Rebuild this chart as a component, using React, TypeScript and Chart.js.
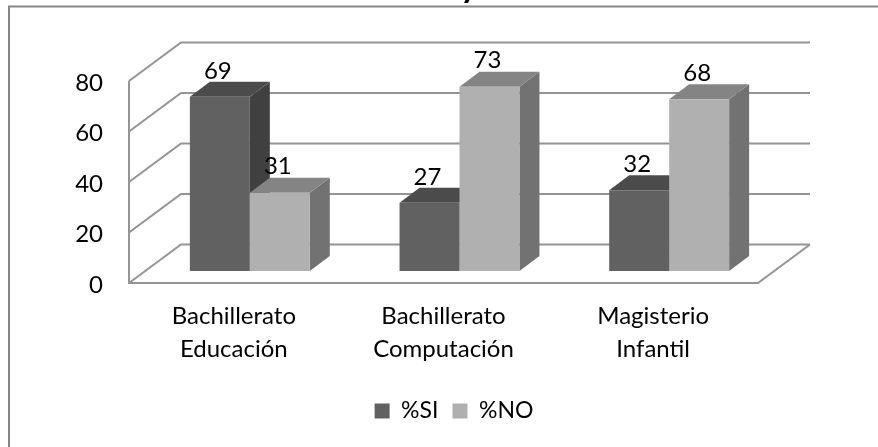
import React, { useEffect, useRef } from "react";
import { Chart, registerables } from "chart.js";

Chart.register(...registerables);

const categories = [["Bachillerato", "Educación"], ["Bachillerato", "Computación"], ["Magisterio", "Infantil"]];
const siValues = [69, 27, 32];
const noValues = [31, 73, 68];
const seriesNames = ["%SI", "%NO"];
const yTicks = [0, 20, 40, 60, 80];
const FONT = "Lato, Carlito, 'Open Sans', sans-serif";
const TEXT = "#000000";
const FONT_SIZE = 24;

const depth = { wallX: 52, wallY: -38.5, barShiftX: 16, barShiftY: -12, barX: 20, barY: -15 };
const faces = [
  { side: "#404040", top: "#4b4b4b" },
  { side: "#727272", top: "#848484" },
];

function drawFaces(chart: any, index: number) {
  const c = chart.ctx;
  const f = faces[index];
  chart.getDatasetMeta(index).data.forEach((b: any) => {
    const { x, y, base, width } = b.getProps(["x", "y", "base", "width"], true);
    const r = x + width / 2;
    const l = x - width / 2;
    c.fillStyle = f.side;
    c.beginPath();
    c.moveTo(r, y);
    c.lineTo(r + depth.barX, y + depth.barY);
    c.lineTo(r + depth.barX, base + depth.barY);
    c.lineTo(r, base);
    c.closePath();
    c.fill();
    c.fillStyle = f.top;
    c.beginPath();
    c.moveTo(l, y);
    c.lineTo(l + depth.barX, y + depth.barY);
    c.lineTo(r + depth.barX, y + depth.barY);
    c.lineTo(r, y);
    c.closePath();
    c.fill();
  });
}

const threeD = {
  id: "threeD",
  afterLayout(chart: any) {
    const lg = chart.legend;
    if (lg) {
      lg.left += 75;
      lg.right += 75;
      lg.top = 385.5;
      lg.bottom = lg.top + lg.height;
    }
  },
  beforeDraw(chart: any) {
    const c = chart.ctx;
    c.save();
    c.strokeStyle = "#868686";
    c.lineWidth = 2;
    c.beginPath();
    c.moveTo(9, 447);
    c.lineTo(9, 6.5);
    c.lineTo(878, 6.5);
    c.stroke();
    c.fillStyle = "#000";
    c.font = `bold 33px ${FONT}`;
    c.textAlign = "center";
    c.textBaseline = "alphabetic";
    c.fillText("y", 469, -2);
    c.restore();
  },
  beforeDatasetsDraw(chart: any) {
    const { ctx: c, scales, chartArea: a } = chart;
    const y = scales.y;
    c.save();
    c.strokeStyle = "#949494";
    c.lineWidth = 2;
    c.beginPath();
    yTicks.forEach((t) => {
      const py = y.getPixelForValue(t);
      c.moveTo(a.left, py);
      c.lineTo(a.left + depth.wallX, py + depth.wallY);
      c.lineTo(a.right + depth.wallX, py + depth.wallY);
    });
    const p0 = y.getPixelForValue(0);
    c.moveTo(a.left, y.getPixelForValue(80));
    c.lineTo(a.left, p0);
    c.lineTo(a.right, p0);
    c.lineTo(a.right + depth.wallX, p0 + depth.wallY);
    c.stroke();
    c.restore();
    c.save();
    c.translate(depth.barShiftX, depth.barShiftY);
  },
  // Chart.js paints the last dataset first; the second series must sit in front here.
  beforeDatasetDraw(chart: any, args: any) {
    if (args.index === 1) return false;
    drawFaces(chart, 0);
    return true;
  },
  afterDatasetDraw(chart: any, args: any) {
    if (args.index === 0) {
      drawFaces(chart, 1);
      chart.getDatasetMeta(1).controller.draw();
    }
  },
  afterDatasetsDraw(chart: any) {
    const c = chart.ctx;
    c.restore();
    c.save();
    c.fillStyle = TEXT;
    c.font = `${FONT_SIZE}px ${FONT}`;
    c.textAlign = "center";
    c.textBaseline = "middle";
    chart.data.datasets.forEach((ds: any, i: number) => {
      chart.getDatasetMeta(i).data.forEach((b: any, j: number) => {
        c.fillText(String(ds.data[j]), b.x + depth.barShiftX - 2, b.y + depth.barShiftY - 26);
      });
    });
    c.restore();
  },
};

export default function App() {
  const ref = useRef<HTMLCanvasElement>(null);
  useEffect(() => {
    const chart = new Chart(ref.current!, {
      type: "bar",
      data: {
        labels: categories,
        datasets: [
          { label: seriesNames[0], data: siValues, backgroundColor: "#616161", clip: false },
          { label: seriesNames[1], data: noValues, backgroundColor: "#b0b0b0", clip: false },
        ] as any,
      },
      options: {
        animation: false,
        responsive: false,
        categoryPercentage: 0.572,
        barPercentage: 1,
        layout: { padding: { left: 0, right: 120, top: 81, bottom: 10 } },
        plugins: {
          title: { display: false },
          tooltip: { enabled: false },
          legend: {
            position: "bottom",
            labels: {
              boxWidth: 15,
              boxHeight: 15,
              padding: 14,
              color: TEXT,
              font: { family: FONT, size: 23 },
            },
          },
        },
        scales: {
          x: {
            grid: { display: false },
            border: { display: false },
            ticks: { color: TEXT, font: { family: FONT, size: FONT_SIZE, lineHeight: 1.375 }, padding: 9, maxRotation: 0 },
            afterFit: (s: any) => { s.height = 107; },
          },
          y: {
            min: 0,
            max: 80,
            grid: { display: false },
            border: { display: false },
            afterFit: (s: any) => { s.width = 129; },
            afterBuildTicks: (s: any) => { s.ticks = yTicks.map((value) => ({ value })); },
            ticks: { color: TEXT, font: { family: FONT, size: FONT_SIZE }, padding: 18, labelOffset: 2 },
          },
        },
      } as any,
      plugins: [threeD],
    });
    return () => chart.destroy();
  }, []);
  return (
    <div style={{ position: "fixed", left: 0, top: 0, width: 878, height: 447, background: "#fff" }}>
      <canvas ref={ref} width={878} height={447} style={{ display: "block" }} />
    </div>
  );
}
